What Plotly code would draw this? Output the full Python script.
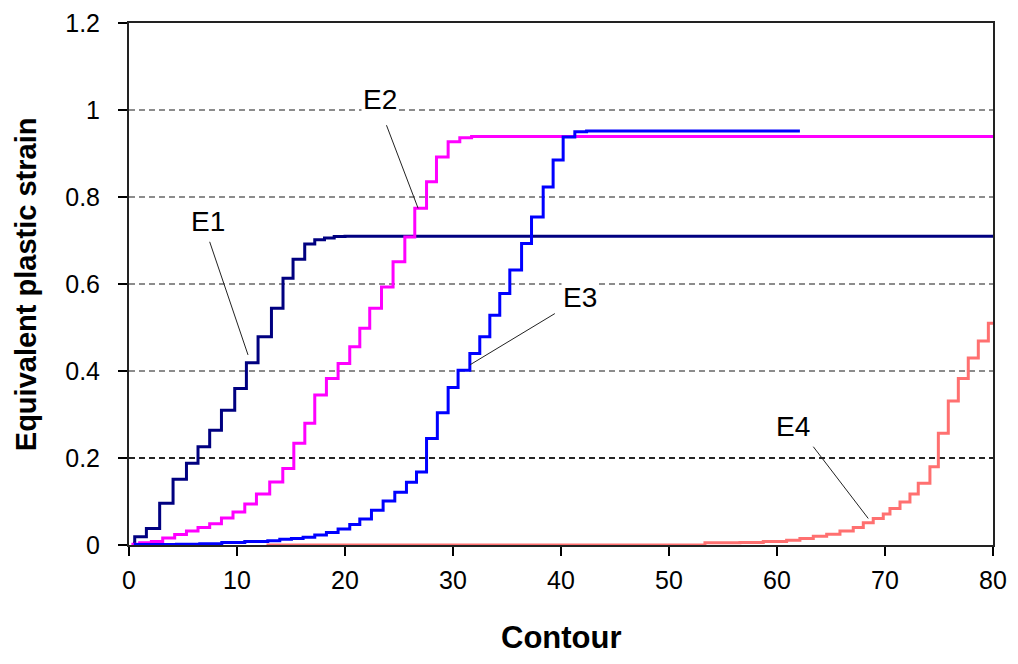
import plotly.graph_objects as go

# ---- data ----
e1_x = [0.37, 0.53, 1.61, 2.84, 4.08, 5.32, 6.39, 7.47, 8.56, 9.79, 10.87, 11.95, 13.19,
        14.26, 15.19, 16.27, 17.2, 18.1, 19.0, 20.0, 80.0]
e1_y = [0.004, 0.019, 0.038, 0.096, 0.151, 0.188, 0.226, 0.264, 0.310, 0.360, 0.419, 0.479,
        0.544, 0.613, 0.657, 0.692, 0.702, 0.706, 0.709, 0.710, 0.710]

e2_x = [0.22, 0.99, 2.07, 3.12, 4.23, 5.32, 6.39, 7.47, 8.56, 9.63, 10.72, 11.80, 13.03,
        14.24, 15.26, 16.28, 17.20, 18.28, 19.36, 20.44, 21.37, 22.29, 23.38, 24.45, 25.54,
        26.46, 27.55, 28.47, 29.55, 30.63, 31.72, 80.0]
e2_y = [0.002, 0.005, 0.008, 0.016, 0.024, 0.032, 0.040, 0.049, 0.062, 0.076, 0.094, 0.117,
        0.145, 0.176, 0.234, 0.280, 0.345, 0.383, 0.417, 0.456, 0.498, 0.544, 0.593, 0.651,
        0.708, 0.774, 0.835, 0.892, 0.927, 0.936, 0.939, 0.939]

e3_x = [0.44, 4.39, 6.55, 8.59, 10.72, 12.85, 13.96, 15.04, 16.12, 17.20, 18.28, 19.36,
        20.44, 21.37, 22.45, 23.53, 24.61, 25.69, 26.62, 27.55, 28.55, 29.55, 30.47, 31.56,
        32.48, 33.41, 34.33, 35.26, 36.35, 37.27, 38.35, 39.27, 40.20, 41.28, 42.37, 62.12]
e3_y = [0.001, 0.002, 0.003, 0.006, 0.008, 0.010, 0.013, 0.015, 0.018, 0.023, 0.029, 0.037,
        0.047, 0.060, 0.080, 0.101, 0.121, 0.144, 0.168, 0.245, 0.304, 0.362, 0.402, 0.440,
        0.479, 0.528, 0.578, 0.632, 0.693, 0.754, 0.823, 0.885, 0.938, 0.950, 0.952, 0.952]

e4_x = [12.73, 53.33, 56.57, 58.73, 60.89, 62.12, 63.36, 64.60, 65.83, 67.06, 67.99, 68.91,
        69.84, 70.46, 71.39, 72.31, 73.08, 74.16, 74.94, 75.86, 76.79, 77.71, 78.64, 79.57, 80.0]
e4_y = [0.0, 0.005, 0.006, 0.008, 0.011, 0.015, 0.020, 0.025, 0.032, 0.040, 0.051, 0.061,
        0.071, 0.084, 0.099, 0.117, 0.142, 0.180, 0.257, 0.331, 0.383, 0.430, 0.469, 0.510, 0.510]

series_names = ["E1", "E2", "E3", "E4"]
series_colors = ["#000080", "#FF00FF", "#0000FF", "#FF7070"]

# label text positions and leader-line ends (data coordinates)
label_x = [7.29, 23.22, 41.75, 61.48]
label_y = [0.744, 1.025, 0.570, 0.273]
leader_x0 = [7.47, 23.84, 39.43, 63.36]
leader_y0 = [0.697, 0.965, 0.532, 0.226]
leader_x1 = [11.02, 26.77, 31.56, 68.45]
leader_y1 = [0.437, 0.774, 0.414, 0.061]

x_ticks = [0, 10, 20, 30, 40, 50, 60, 70, 80]
y_ticks = [0, 0.2, 0.4, 0.6, 0.8, 1.0, 1.2]
dark_grid_value = 0.2

FONT = "Liberation Sans, Arial, sans-serif"

fig = go.Figure()
for xs, ys, name, col in zip([e1_x, e2_x, e3_x, e4_x], [e1_y, e2_y, e3_y, e4_y],
                             series_names, series_colors):
    fig.add_trace(go.Scatter(x=xs, y=ys, mode="lines", name=name,
                             line=dict(color=col, width=3, shape="hv")))

# darker dashed gridline at 0.2
fig.add_shape(type="line", xref="x", yref="y", x0=0, x1=80, y0=dark_grid_value,
              y1=dark_grid_value, line=dict(color="#000000", width=1.5, dash="6px,4px"),
              layer="between")

for lx0, ly0, lx1, ly1 in zip(leader_x0, leader_y0, leader_x1, leader_y1):
    fig.add_shape(type="line", xref="x", yref="y", x0=lx0, y0=ly0, x1=lx1, y1=ly1,
                  line=dict(color="#222222", width=1), layer="above")

for tx, ty, name in zip(label_x, label_y, series_names):
    fig.add_annotation(x=tx, y=ty, text=name, showarrow=False, xref="x", yref="y",
                       font=dict(family=FONT, size=28, color="#000000"),
                       bgcolor="rgba(255,255,255,1)", borderpad=1)

# axis titles as annotations (precise placement)
fig.add_annotation(text="<b>Equivalent plastic strain</b>", xref="paper", yref="paper",
                   x=-0.119, y=0.5, xanchor="center", yanchor="middle", textangle=-90,
                   showarrow=False, font=dict(family=FONT, size=29, color="#000000"))
fig.add_annotation(text="<b>Contour</b>", xref="paper", yref="paper",
                   x=0.5, y=-0.178, xanchor="center", yanchor="middle",
                   showarrow=False, font=dict(family=FONT, size=31, color="#000000"))

# page body has an 8px margin, so the figure is sized to fit inside the window
fig.update_layout(
    width=1002, height=648,
    margin=dict(l=121, r=17, t=15, b=111, autoexpand=False),
    paper_bgcolor="white", plot_bgcolor="white",
    showlegend=False,
    font=dict(family=FONT, size=25, color="#000000"),
)
fig.update_xaxes(
    range=[0, 80], tickvals=x_ticks, ticks="outside", ticklen=9, tickwidth=1.5,
    tickcolor="#000000", showline=True, linecolor="#222222", linewidth=2, mirror=True,
    showgrid=False, zeroline=False, ticklabelstandoff=3,
    tickfont=dict(family=FONT, size=25),
)
fig.update_yaxes(
    range=[0, 1.2], tickvals=y_ticks, ticks="outside", ticklen=9, tickwidth=1.5,
    tickcolor="#000000", showline=True, linecolor="#222222", linewidth=2, mirror=True,
    showgrid=True, gridcolor="#8c8c8c", gridwidth=1.5, griddash="6px,4px",
    zeroline=False, ticklabelstandoff=13,
    tickfont=dict(family=FONT, size=25),
)

fig.write_html("out.html")
